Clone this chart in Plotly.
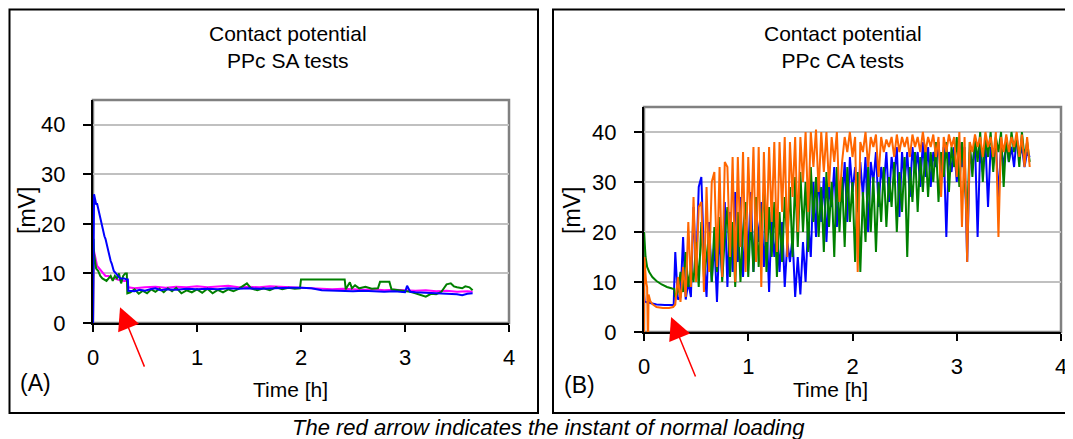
import plotly.graph_objects as go

# ---------------- Panel A : PPc SA tests ----------------
T_MAGENTA_A = [0, 0.005, 0.01, 0.02, 0.03, 0.04, 0.06, 0.08, 0.10, 0.12,
               0.15, 0.18, 0.20, 0.23, 0.26, 0.30, 0.33, 0.34, 0.40, 0.50,
               0.60, 0.70, 0.80, 0.90, 1.00, 1.10, 1.20, 1.30, 1.40, 1.50,
               1.60, 1.70, 1.80, 1.90, 2.00, 2.10, 2.20, 2.30, 2.40, 2.50,
               2.60, 2.70, 2.80, 2.90, 3.00, 3.10, 3.20, 3.30, 3.40, 3.50,
               3.60, 3.65]
V_MAGENTA_A = [0, 15, 14.5, 13.5, 12.5, 11.5, 11, 10.5, 10, 9.5,
               9.5, 9, 9, 8.8, 8.6, 8.5, 8.5, 7.2, 7.0, 7.2,
               7.3, 7.1, 7.3, 7.2, 7.4, 7.2, 7.3, 7.5, 7.2, 7.3,
               7.2, 7.4, 7.3, 7.2, 7.2, 7.1, 6.9, 6.8, 6.9, 6.8,
               6.7, 6.8, 6.6, 6.7, 6.6, 6.5, 6.6, 6.4, 6.5, 6.3,
               6.4, 6.3]

T_GREEN_A = [0, 0.005, 0.01, 0.02, 0.03, 0.05, 0.07, 0.09, 0.11, 0.13,
             0.15, 0.17, 0.19, 0.21, 0.23, 0.25, 0.27, 0.29, 0.31, 0.325,
             0.33, 0.36, 0.40, 0.44, 0.48, 0.52, 0.56, 0.60, 0.64, 0.68,
             0.72, 0.76, 0.80, 0.85, 0.90, 0.95, 1.00, 1.05, 1.10, 1.15,
             1.20, 1.25, 1.30, 1.35, 1.40, 1.45, 1.48, 1.52, 1.58, 1.64,
             1.70, 1.76, 1.82, 1.88, 1.94, 1.99, 2.00, 2.20, 2.42, 2.43,
             2.47, 2.49, 2.52, 2.56, 2.62, 2.68, 2.74, 2.76, 2.85, 2.87,
             2.93, 3.00, 3.05, 3.10, 3.15, 3.20, 3.25, 3.30, 3.35, 3.40,
             3.44, 3.47, 3.50, 3.55, 3.58, 3.62, 3.65]
V_GREEN_A = [0, 17, 14, 12.5, 11, 10.5, 9.5, 9, 8.8, 8.5,
             9, 9.5, 8.5, 9.5, 9, 10, 8, 9.5, 10, 10,
             6, 6.2, 6.8, 5.9, 6.5, 6.0, 6.8, 6.3, 6.9, 6.2,
             7.0, 6.4, 7.1, 6.0, 6.6, 6.2, 6.8, 6.1, 6.9, 6.0,
             6.7, 6.2, 6.8, 6.4, 6.9, 7.5, 8.0, 7.0, 6.6, 7.0,
             6.6, 7.2, 6.8, 7.1, 6.9, 7.0, 8.8, 8.8, 8.8, 6.8,
             8.2, 7.0, 7.6, 7.0, 7.3, 6.9, 7.0, 8.3, 8.3, 6.8,
             6.6, 6.5, 6.3, 6.0, 5.7, 5.3, 5.9, 5.8, 6.3, 7.8,
             8.0, 7.4, 7.2, 7.0, 7.4, 7.2, 6.6]

T_BLUE_A = [0, 0.003, 0.01, 0.02, 0.03, 0.04, 0.05, 0.06, 0.07, 0.08,
            0.09, 0.10, 0.11, 0.12, 0.13, 0.14, 0.15, 0.16, 0.17, 0.18,
            0.19, 0.20, 0.22, 0.24, 0.26, 0.28, 0.30, 0.32, 0.335, 0.34,
            0.40, 0.45, 0.50, 0.55, 0.60, 0.65, 0.70, 0.80, 0.90, 1.00,
            1.10, 1.20, 1.30, 1.40, 1.50, 1.60, 1.70, 1.80, 1.90, 2.00,
            2.10, 2.20, 2.30, 2.40, 2.50, 2.60, 2.70, 2.80, 2.90, 3.00,
            3.02, 3.05, 3.10, 3.20, 3.30, 3.40, 3.45, 3.50, 3.55, 3.60,
            3.65]
V_BLUE_A = [0, 26, 26, 25, 24, 24, 23, 22, 21, 20.5,
            19, 18.5, 17.5, 17, 16, 15, 14, 13.5, 12.5, 12,
            11, 10.5, 10, 9.5, 9, 9, 9, 8.8, 8.8, 6.5,
            6.4, 6.7, 6.5, 6.8, 7.0, 6.6, 6.8, 6.7, 6.9, 6.8,
            6.9, 6.8, 7.0, 6.9, 7.0, 6.9, 7.0, 7.0, 7.1, 7.1,
            7.0, 6.6, 6.5, 6.5, 6.4, 6.5, 6.4, 6.3, 6.4, 6.2,
            7.5, 6.3, 6.2, 6.1, 6.0, 5.9, 6.0, 5.8, 5.6, 5.9,
            6.0]

# ---------------- Panel B : PPc CA tests ----------------
# start-up part (before normal loading), read per series
T_BLUE_B0 = [0.0, 0.005, 0.02, 0.06, 0.12, 0.20, 0.27, 0.285, 0.29]
V_BLUE_B0 = [7.5, 6.2, 6.0, 5.8, 5.5, 5.4, 5.4, 5.4, 9.5]
T_GREEN_B0 = [0.0, 0.005, 0.015, 0.03, 0.05, 0.08, 0.12, 0.17, 0.22, 0.27, 0.29]
V_GREEN_B0 = [20, 17.5, 15, 13, 12, 11, 10.2, 9.5, 9.0, 8.7, 8.6]
T_ORANGE_B0 = [0.0, 0.004, 0.01, 0.02, 0.03, 0.036, 0.04, 0.044, 0.06, 0.08,
               0.12, 0.18, 0.24, 0.28]
V_ORANGE_B0 = [0, 15, 13, 10, 9, 0, 0, 7.5, 6.2, 5.6,
               5.0, 4.8, 4.8, 5.0]

# sampled part after loading
T_B = [0.300, 0.325, 0.350, 0.375, 0.400, 0.425, 0.450, 0.475,
       0.500, 0.525, 0.550, 0.575, 0.600, 0.625, 0.650, 0.675,
       0.700, 0.725, 0.750, 0.775, 0.800, 0.825, 0.850, 0.875,
       0.900, 0.925, 0.950, 0.975, 1.000, 1.025, 1.050, 1.075,
       1.100, 1.125, 1.150, 1.175, 1.200, 1.225, 1.250, 1.275,
       1.300, 1.325, 1.350, 1.375, 1.400, 1.425, 1.450, 1.475,
       1.500, 1.525, 1.550, 1.575, 1.600, 1.625, 1.650, 1.675,
       1.700, 1.725, 1.750, 1.775, 1.800, 1.825, 1.850, 1.875,
       1.900, 1.925, 1.950, 1.975, 2.000, 2.025, 2.050, 2.075,
       2.100, 2.125, 2.150, 2.175, 2.200, 2.225, 2.250, 2.275,
       2.300, 2.325, 2.350, 2.375, 2.400, 2.425, 2.450, 2.475,
       2.500, 2.525, 2.550, 2.575, 2.600, 2.625, 2.650, 2.675,
       2.700, 2.725, 2.750, 2.775, 2.800, 2.825, 2.850, 2.875,
       2.900, 2.925, 2.950, 2.975, 3.000, 3.025, 3.050, 3.075,
       3.100, 3.125, 3.150, 3.175, 3.200, 3.225, 3.250, 3.275,
       3.300, 3.325, 3.350, 3.375, 3.400, 3.425, 3.450, 3.475,
       3.500, 3.525, 3.550, 3.575, 3.600, 3.625, 3.650, 3.675,
       3.700]

V_BLUE_B = [16, 6.5, 7, 19, 6.5, 10, 7, 25,
            12, 29, 31, 15, 7, 22, 10, 18,
            6, 20, 11, 26, 9, 24, 12, 28,
            14, 27, 11, 22, 16, 28, 12, 25,
            18, 26, 13, 22, 8, 24, 15, 20,
            12, 22, 9, 18, 14, 19, 7, 15,
            7.5, 18, 10, 22, 15, 30, 19, 32,
            22, 31, 18, 29, 25, 33, 21, 30,
            26, 34, 22, 35, 28, 33, 24, 34,
            27, 35, 20, 34, 30, 36, 25, 33,
            29, 36, 26, 35, 31, 37, 23, 36,
            30, 36, 27, 37, 32, 36, 29, 38,
            31, 37, 29, 36, 33, 38, 30, 37,
            19, 36, 32, 37, 30, 38, 33, 37,
            14, 36, 33, 38, 19, 37, 32, 38,
            25, 37, 34, 38, 27, 37, 33, 38,
            34, 37, 33, 39, 35, 37, 33, 36,
            35]

V_GREEN_B = [7, 8, 12, 8, 16, 9, 13, 10,
             18, 9, 22, 11, 15, 20, 10, 21,
             12, 23, 10, 19, 25, 11, 22, 9,
             24, 10, 20, 26, 11, 23, 12, 27,
             13, 22, 28, 12, 25, 15, 26, 11,
             24, 14, 27, 18, 29, 15, 31, 17,
             32, 20, 30, 16, 33, 22, 31, 19,
             29, 16, 32, 21, 30, 15, 33, 20,
             31, 17, 33, 22, 30, 14, 32, 12,
             28, 18, 33, 20, 31, 16, 30, 22,
             33, 21, 31, 25, 34, 20, 32, 24,
             35, 15, 33, 26, 36, 24, 35, 28,
             37, 27, 36, 30, 38, 26, 36, 31,
             38, 28, 37, 33, 39, 29, 38, 30,
             23, 38, 31, 39, 34, 40, 30, 39,
             35, 40, 32, 39, 36, 40, 29, 39,
             34, 40, 36, 39, 33, 40, 35, 38,
             34]

V_ORANGE_B = [5.5, 11, 6, 13, 7, 22, 9, 27,
              10, 25, 26, 8, 29, 12, 30, 32,
              13, 33, 11, 34, 33, 15, 35, 10,
              35, 17, 36, 12, 35, 20, 37, 14,
              37, 9, 36, 18, 37, 22, 38, 16,
              38, 24, 39, 15, 38, 27, 39, 20,
              39, 30, 40, 24, 40, 33, 40.5, 28,
              40, 32, 40, 29, 39, 34, 40, 26,
              34, 39, 36, 40, 35, 39, 12, 38,
              36, 40, 33, 39, 37, 39.5, 31, 39,
              36, 38.5, 37, 39, 35, 39.5, 36, 39,
              37, 39, 35, 39.5, 37, 39, 36, 40,
              36, 39, 37, 39.5, 35, 39, 27, 39,
              36, 39.5, 37, 39, 31, 40, 21, 39,
              14, 38, 36, 39.5, 37, 39, 35, 40,
              37, 39, 35, 40, 19, 39, 36, 39.5,
              36, 39, 37, 40, 35, 39.5, 33, 39,
              33]

X_TICKS = [0, 1, 2, 3, 4]
Y_TICKS = [0, 10, 20, 30, 40]

BLUE, GREEN, MAGENTA, ORANGE = "#0000FF", "#008000", "#FF00FF", "#FF6600"
FONT = "Liberation Sans, Arial, sans-serif"

# the page body keeps its default 8px margin, so the figure starts at (8, 8)
OFF = 8
W, H = 1073 - OFF, 439 - OFF


def px(x):
    """screen x (pixels in the 1073x439 shot) -> paper fraction"""
    return (x - OFF) / W


def py(y):
    return 1 - (y - OFF) / H


def line(x, y, color, xa, ya):
    return go.Scatter(x=x, y=y, mode="lines", line=dict(color=color, width=2),
                      xaxis=xa, yaxis=ya, showlegend=False, hoverinfo="skip")


fig = go.Figure()
fig.add_trace(line(T_MAGENTA_A, V_MAGENTA_A, MAGENTA, "x", "y"))
fig.add_trace(line(T_GREEN_A, V_GREEN_A, GREEN, "x", "y"))
fig.add_trace(line(T_BLUE_A, V_BLUE_A, BLUE, "x", "y"))

fig.add_trace(line(T_BLUE_B0 + T_B, V_BLUE_B0 + V_BLUE_B, BLUE, "x2", "y2"))
fig.add_trace(line(T_GREEN_B0 + T_B, V_GREEN_B0 + V_GREEN_B, GREEN, "x2", "y2"))
fig.add_trace(line(T_ORANGE_B0 + T_B, V_ORANGE_B0 + V_ORANGE_B, ORANGE, "x2", "y2"))

xax = dict(range=[0, 4], tickvals=X_TICKS, showgrid=False, zeroline=False,
           showline=True, linecolor="black", linewidth=2, automargin=False,
           ticks="outside", ticklen=7, tickwidth=2, tickcolor="black",
           tickfont=dict(size=22, color="black", family=FONT),
           ticklabelstandoff=7)
yax = dict(range=[0, 45], tickvals=Y_TICKS, showgrid=True, gridcolor="#c0c0c0",
           gridwidth=1.5, zeroline=False, showline=True, linecolor="black",
           linewidth=2, ticks="outside", ticklen=8, tickwidth=2, tickcolor="black",
           tickfont=dict(size=22, color="black", family=FONT), automargin=False,
           ticklabelstandoff=13)

fig.update_layout(
    width=W, height=H, margin=dict(l=0, r=0, t=0, b=0, autoexpand=False),
    paper_bgcolor="white", plot_bgcolor="white",
    xaxis=dict(xax, domain=[px(93), px(509)], anchor="y"),
    yaxis=dict(yax, domain=[py(323), py(100)], anchor="x"),
    xaxis2=dict(xax, domain=[px(644), px(1061)], anchor="y2"),
    yaxis2=dict(yax, domain=[py(332), py(107)], anchor="x2"),
    font=dict(family=FONT, color="black"),
)

shapes = []
# outer frames
shapes.append(dict(type="rect", xref="paper", yref="paper", x0=px(9.5), x1=px(538),
                   y0=py(413), y1=py(9.5), line=dict(color="black", width=2)))
shapes.append(dict(type="rect", xref="paper", yref="paper", x0=px(553), x1=1.01,
                   y0=py(413), y1=py(9.5), line=dict(color="black", width=2)))
# grey plot-area frame (top/right)
for xa, ya in (("x", "y"), ("x2", "y2")):
    shapes.append(dict(type="rect", xref=f"{xa} domain", yref=f"{ya} domain",
                       x0=0, x1=1, y0=0, y1=1, layer="below",
                       line=dict(color="#808080", width=2.5)))
fig.update_layout(shapes=shapes)


def text(x, y, s, size=21, **kw):
    fig.add_annotation(x=px(x), y=py(y), xref="paper", yref="paper", text=s,
                       showarrow=False, font=dict(size=size, family=FONT, color="black"),
                       xanchor="center", yanchor="middle", **kw)


text(288, 47, "Contact potential<br>PPc SA tests", size=21)
text(843, 47, "Contact potential<br>PPc CA tests", size=21)
text(290, 389, "Time [h]", size=21)
text(830, 389, "Time [h]", size=21)
text(35, 383, "(A)", size=23)
text(579, 385, "(B)", size=23)
text(27, 211, "[mV]", size=23, textangle=-90)
text(572, 211, "[mV]", size=23, textangle=-90)
text(548, 427, "<i>The red arrow indicates the instant of normal loading</i>", size=22)

# red arrows marking normal loading
for xa, ya, tx, ty in (("x", "y", 0.26, 3.2), ("x2", "y2", 0.26, 3.0)):
    fig.add_annotation(x=tx, y=ty, xref=xa, yref=ya, ax=25, ay=61, text="",
                       showarrow=True, arrowhead=2, arrowsize=3, arrowwidth=1.5,
                       arrowcolor="#FF0000")

fig.write_html("out.html")
